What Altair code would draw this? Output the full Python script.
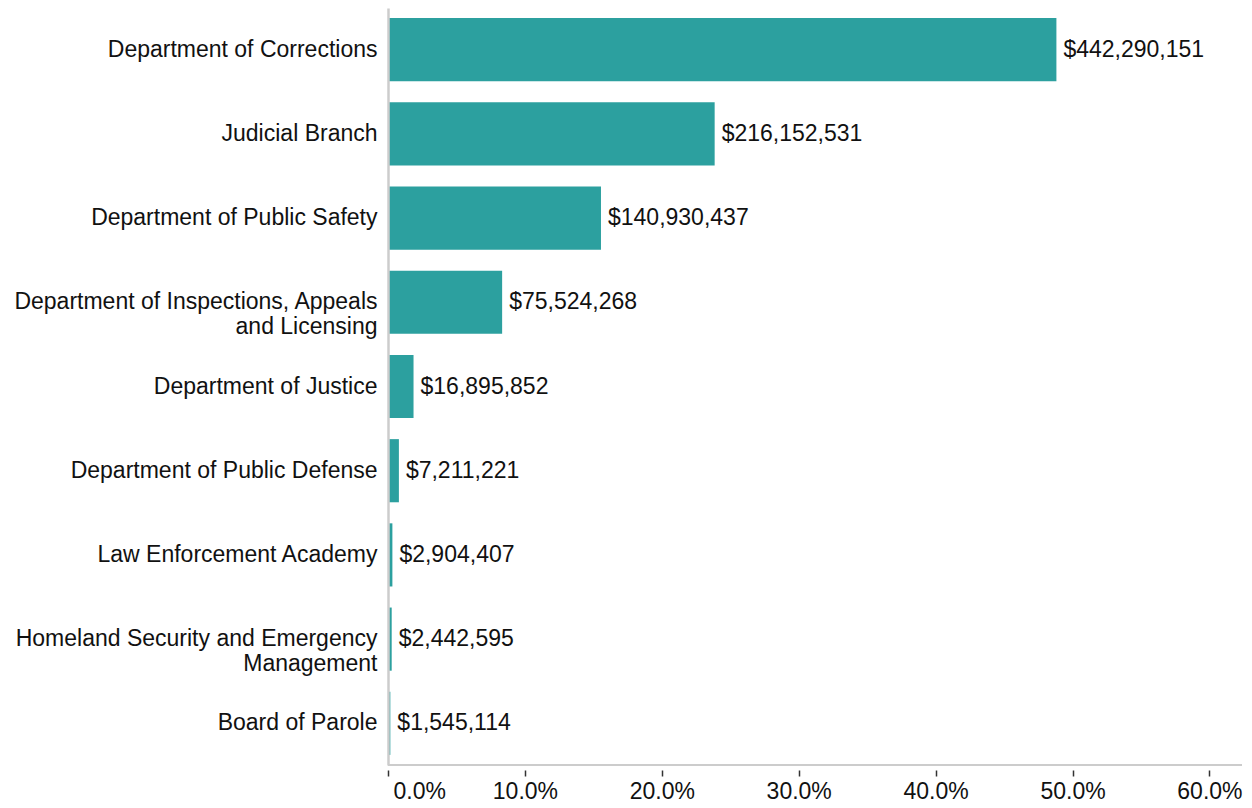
import altair as alt
import pandas as pd

departments = [
    "Department of Corrections",
    "Judicial Branch",
    "Department of Public Safety",
    "Department of Inspections, Appeals and Licensing",
    "Department of Justice",
    "Department of Public Defense",
    "Law Enforcement Academy",
    "Homeland Security and Emergency Management",
    "Board of Parole",
]
amounts = [
    442290151,
    216152531,
    140930437,
    75524268,
    16895852,
    7211221,
    2904407,
    2442595,
    1545114,
]
tick_values = [0.0, 0.1, 0.2, 0.3, 0.4, 0.5, 0.6]
wrapped = {
    "Department of Inspections, Appeals and Licensing": ["Department of Inspections, Appeals", "and Licensing"],
    "Homeland Security and Emergency Management": ["Homeland Security and Emergency", "Management"],
}

df = pd.DataFrame({"department": departments, "amount": amounts})

label_expr = ""
for k, v in wrapped.items():
    label_expr += "datum.label == '%s' ? ['%s', '%s'] : " % (k, v[0], v[1])
label_expr += "datum.label"

FONT = "Liberation Sans"
FS = 23
TEXT = "#111111"
W, H = 854, 757

base = alt.Chart(df).transform_joinaggregate(
    total="sum(amount)"
).transform_calculate(
    share="datum.amount / datum.total"
)

y_enc = alt.Y(
    "department:N",
    sort=departments,
    scale=alt.Scale(paddingInner=0.25, paddingOuter=0.12),
    axis=alt.Axis(
        title=None,
        ticks=False,
        domain=True,
        domainColor="#cccccc",
        domainWidth=2.5,
        zindex=1,
        labelFont=FONT,
        labelFontSize=FS,
        labelColor=TEXT,
        labelPadding=11,
        labelLimit=500,
        labelLineHeight=25,
        labelExpr=label_expr,
    ),
)

x_enc = alt.X(
    "share:Q",
    scale=alt.Scale(domain=[0, 0.6238], nice=False, zero=True),
    axis=alt.Axis(
        title=None,
        values=tick_values,
        format=".1%",
        grid=False,
        domain=False,
        offset=5,
        tickColor="#333333",
        tickWidth=1.5,
        tickSize=6,
        labelFont=FONT,
        labelFontSize=FS,
        labelColor=TEXT,
        labelPadding=4,
        labelFlush=True,
        labelFlushOffset=-5,
    ),
)

bars = base.mark_bar(color="#2ca09f").encode(y=y_enc, x=x_enc)

labels = base.mark_text(
    align="left", baseline="middle", dx=7, font=FONT, fontSize=FS, color=TEXT
).encode(
    y=alt.Y("department:N", sort=departments),
    x=alt.X("share:Q"),
    text=alt.Text("amount:Q", format="$,.0f"),
)

bottom_line = alt.Chart(df).mark_rule(color="#cccccc", strokeWidth=2).encode(
    x=alt.value(0), x2=alt.value(W), y=alt.value(H)
)

chart = alt.layer(bars, labels, bottom_line).properties(
    width=W,
    height=H,
    autosize=alt.AutoSizeParams(type="none"),
    padding={"left": 380, "top": 0, "right": 2, "bottom": 40},
).configure_view(stroke=None)

chart.save("out.html", embed_options={"renderer": "svg", "actions": False})
